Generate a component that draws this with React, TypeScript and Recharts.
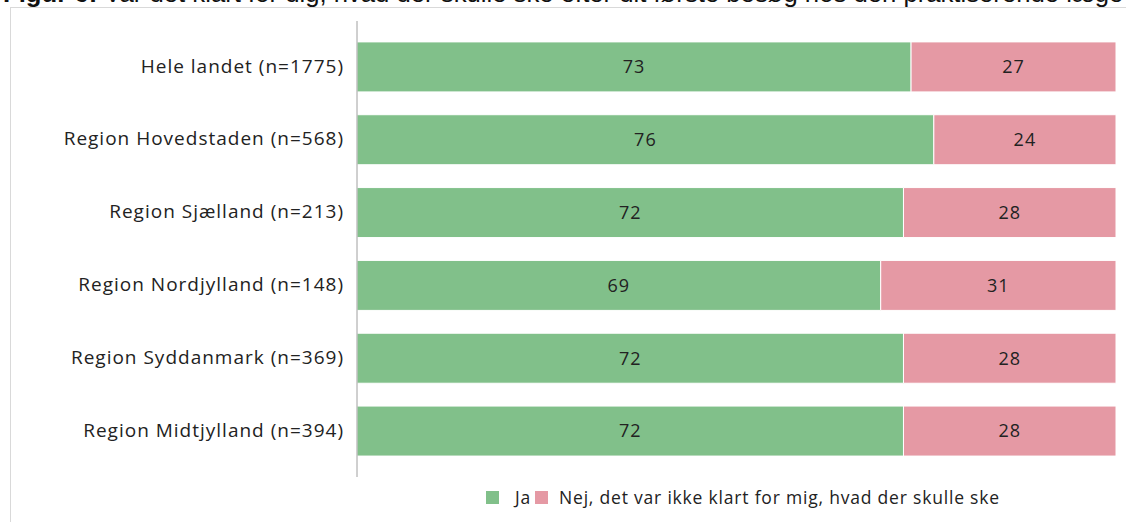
import { BarChart, Bar, XAxis, YAxis, LabelList } from "recharts";

const regions = [
  "Hele landet (n=1775)",
  "Region Hovedstaden (n=568)",
  "Region Sjælland (n=213)",
  "Region Nordjylland (n=148)",
  "Region Syddanmark (n=369)",
  "Region Midtjylland (n=394)",
];
const jaValues = [73, 76, 72, 69, 72, 72];
const nejValues = [27, 24, 28, 31, 28, 28];

const seriesNames = { ja: "Ja", nej: "Nej, det var ikke klart for mig, hvad der skulle ske" };
const GREEN = "#81c08a";
const PINK = "#e599a4";
const FONT = "'Open Sans', Lato, sans-serif";

const data = regions.map((name, i) => ({ name, ja: jaValues[i], nej: nejValues[i] }));

function LegendBox() {
  const items = [
    { label: seriesNames.ja, color: GREEN, gap: 4 },
    { label: seriesNames.nej, color: PINK, gap: 0 },
  ];
  return (
    <div style={{ display: "flex", alignItems: "center", fontFamily: FONT, fontSize: 17.5, letterSpacing: 0.8, color: "#222" }}>
      {items.map((it, i) => (
        <div key={it.label} style={{ display: "flex", alignItems: "center", marginRight: it.gap }}>
          <span style={{ width: 13, height: 13, background: it.color, display: "inline-block", marginRight: i === 0 ? 16 : 11 }} />
          <span>{it.label}</span>
        </div>
      ))}
    </div>
  );
}

export default function App() {
  return (
    <div style={{ position: "absolute", left: 0, top: 0, width: 1126, height: 522, overflow: "hidden", background: "#fff" }}>
      {/* figure title, cut off at the top of the picture */}
      <div
        style={{
          position: "absolute",
          top: -20,
          left: 3,
          whiteSpace: "nowrap",
          fontFamily: "'Liberation Sans', Arial, sans-serif",
          fontSize: 25.7,
          lineHeight: "26px",
          color: "#111",
        }}
      >
        <b>Figur 6:</b> Var det klart for dig, hvad der skulle ske efter dit første besøg hos den praktiserende læge
      </div>
      {/* chart frame */}
      <div style={{ position: "absolute", left: 10, top: 7, width: 1200, height: 600, border: "1px solid #d9d9d9" }} />
      <div style={{ position: "absolute", left: 0, top: 0 }}>
        <BarChart
          width={1126}
          height={522}
          data={data}
          layout="vertical"
          barCategoryGap={11.4}
          margin={{ top: 21, right: 10, bottom: 45, left: 0 }}
        >
          <XAxis type="number" domain={[0, 100]} hide />
          <YAxis
            type="category"
            dataKey="name"
            width={357}
            tickLine={false}
            tickSize={0}
            tickMargin={13}
            padding={{ top: 9.5, bottom: 9.5 }}
            axisLine={{ stroke: "#a0a0a0", strokeWidth: 1 }}
            tick={{ fill: "#222", fontSize: 19, fontFamily: FONT, letterSpacing: 1, dy: -1 }}
          />
          <Bar dataKey="ja" name={seriesNames.ja} stackId="a" fill={GREEN} stroke="#fff" strokeWidth={1} isAnimationActive={false}>
            <LabelList dataKey="ja" position="center" fill="#222" fontSize={18} fontFamily={FONT} letterSpacing={1} />
          </Bar>
          <Bar dataKey="nej" name={seriesNames.nej} stackId="a" fill={PINK} stroke="#fff" strokeWidth={1} isAnimationActive={false}>
            <LabelList dataKey="nej" position="center" fill="#222" fontSize={18} fontFamily={FONT} letterSpacing={1} />
          </Bar>
        </BarChart>
      </div>
      <div style={{ position: "absolute", left: 486, top: 485 }}>
        <LegendBox />
      </div>
    </div>
  );
}
